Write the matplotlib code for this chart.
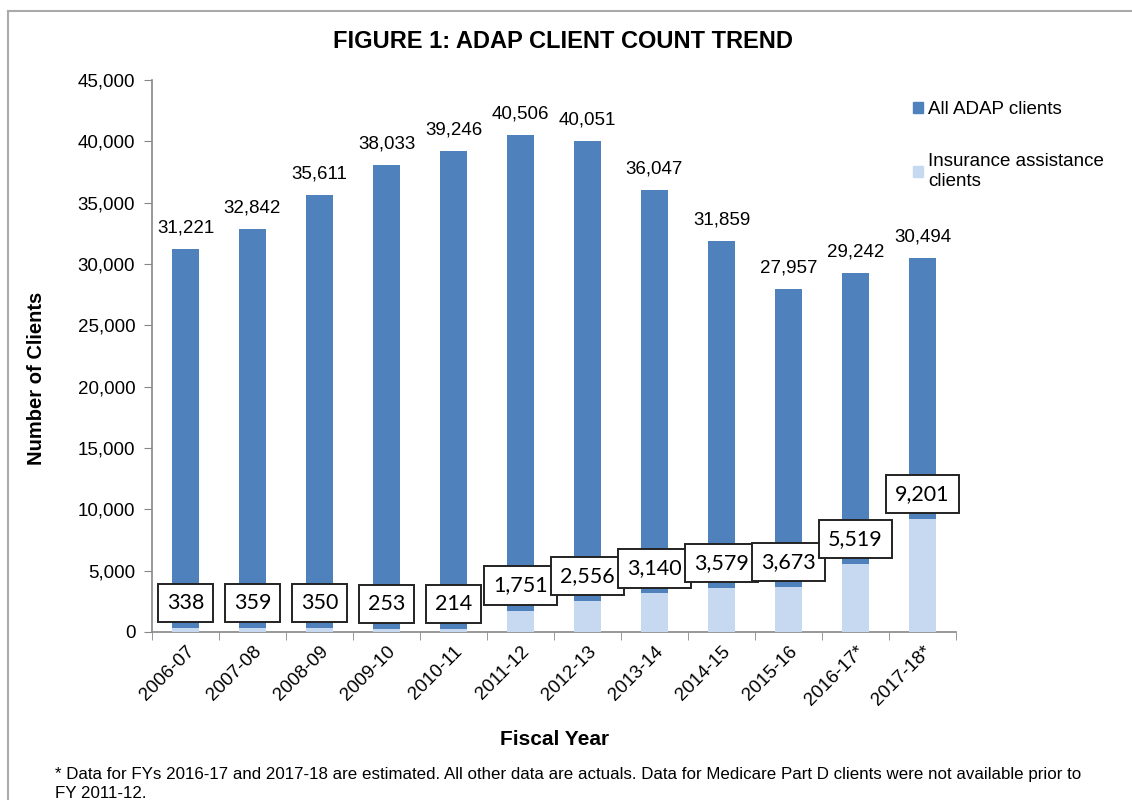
import matplotlib
matplotlib.use("Agg")
import matplotlib.pyplot as plt
from matplotlib.lines import Line2D
from matplotlib.patches import Patch

years = ["2006-07", "2007-08", "2008-09", "2009-10", "2010-11", "2011-12",
         "2012-13", "2013-14", "2014-15", "2015-16", "2016-17*", "2017-18*"]
all_clients = [31221, 32842, 35611, 38033, 39246, 40506,
               40051, 36047, 31859, 27957, 29242, 30494]
insurance = [338, 359, 350, 253, 214, 1751,
             2556, 3140, 3579, 3673, 5519, 9201]

DARK, LIGHT = "#4f81bd", "#c6d9f1"
ARIAL = ["Liberation Sans", "DejaVu Sans"]

plt.rcParams["font.family"] = ARIAL
fig = plt.figure(figsize=(11.32, 8.0), dpi=100)
ax = fig.add_axes([152 / 1132, 168 / 800, 804 / 1132, 552 / 800])

x = list(range(len(years)))
ax.bar(x, all_clients, width=0.4, color=DARK, zorder=2)
ax.bar(x, insurance, width=0.4, color=LIGHT, zorder=3)

for xi, tot, ins in zip(x, all_clients, insurance):
    ax.annotate(f"{tot:,}", (xi, tot), xytext=(0, 9), textcoords="offset points",
                ha="center", va="bottom", fontsize=13.5)
    ax.annotate(f"{ins:,}", (xi, ins), xytext=(0, 18), textcoords="offset points",
                ha="center", va="center", fontsize=15.5, family=["Lato", "DejaVu Sans"],
                bbox=dict(boxstyle="square,pad=0.42", fc="white", ec="#222222", lw=1.4),
                zorder=5)

ax.set_xlim(-0.5, len(years) - 0.5)
ax.set_ylim(0, 45000)
ax.set_yticks(range(0, 45001, 5000))
ax.set_yticklabels([f"{v:,}" for v in range(0, 45001, 5000)], fontsize=13.5)
ax.set_xticks(x)
ax.set_xticklabels(years, rotation=45, ha="right", rotation_mode="anchor", fontsize=13.5)
ax.set_xticks([i - 0.5 for i in range(len(years) + 1)], minor=True)
ax.tick_params(axis="x", which="major", length=0, pad=8)
ax.tick_params(axis="x", which="minor", length=6, color="#888888", direction="out")
ax.tick_params(axis="y", length=6, color="#888888", direction="out", pad=6)
for s in ("top", "right"):
    ax.spines[s].set_visible(False)
for s in ("left", "bottom"):
    ax.spines[s].set_color("#888888")
    ax.spines[s].set_linewidth(1.2)

ax.set_ylabel("Number of Clients", fontsize=14.5, fontweight="bold")
ax.yaxis.set_label_coords((46 - 152) / 804, (632 - 378) / 552)
ax.set_xlabel("Fiscal Year", fontsize=15, fontweight="bold")
ax.xaxis.set_label_coords((555 - 152) / 804, -(730 - 632) / 552)
fig.text(563 / 1132, 1 - 42 / 800, "FIGURE 1: ADAP CLIENT COUNT TREND", ha="center", va="center",
         fontsize=17, fontweight="bold")

handles = [Patch(color=DARK), Patch(color=LIGHT)]
fig.legend(handles, ["All ADAP clients", "Insurance assistance\nclients"],
           loc="upper left", bbox_to_anchor=(896 / 1132, 1 - 84 / 800), frameon=False,
           fontsize=13.5, handlelength=0.55, handleheight=0.55, handletextpad=0.25,
           labelspacing=1.9)

fig.text(55 / 1132, 1 - 775 / 800,
         "* Data for FYs 2016-17 and 2017-18 are estimated. All other data are actuals. "
         "Data for Medicare Part D clients were not available prior to",
         ha="left", va="center", fontsize=12.2)
fig.text(55 / 1132, 1 - 793 / 800, "FY 2011-12.", ha="left", va="center", fontsize=12.2)

# page frame
fig.add_artist(Line2D([8 / 1132, 8 / 1132], [0, 1 - 11 / 800], color="#aaaaaa", lw=1.5))
fig.add_artist(Line2D([8 / 1132, 1], [1 - 11 / 800, 1 - 11 / 800], color="#aaaaaa", lw=1.5))

fig.savefig("out.png", dpi=100)
